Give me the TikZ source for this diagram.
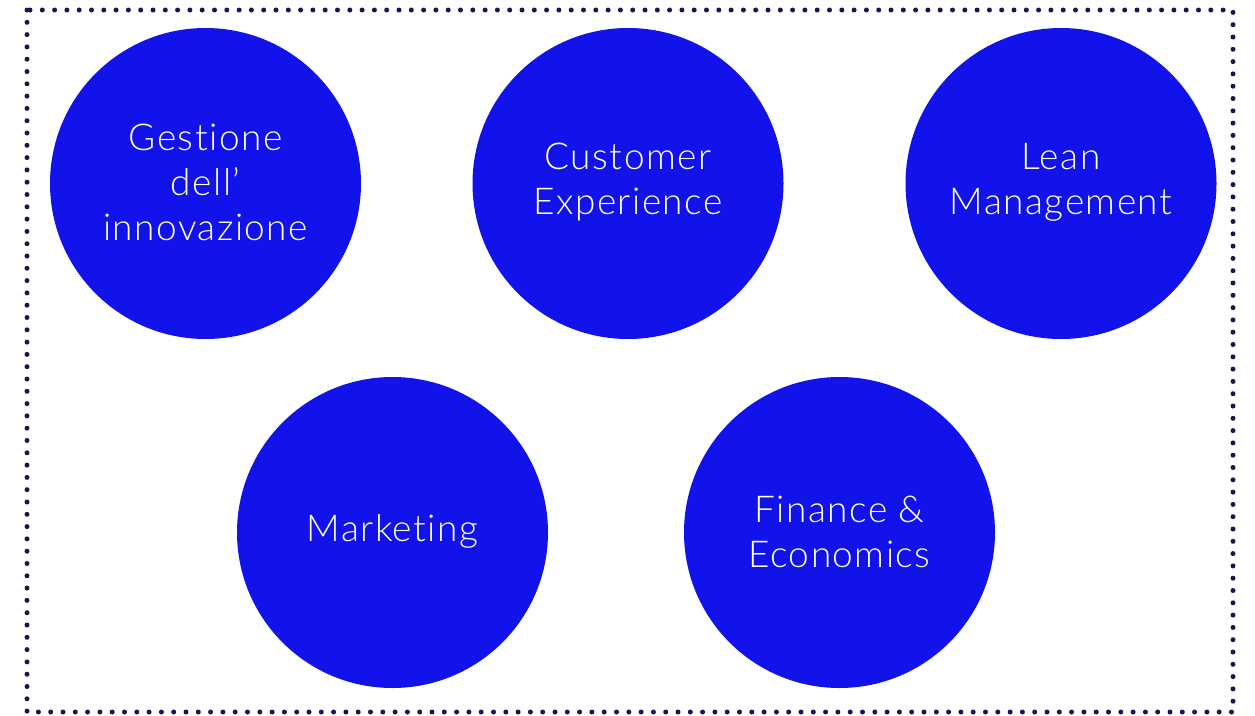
\documentclass[tikz,border=0pt]{standalone}
\usepackage{fontspec}
\setmainfont{Lato Light}[Ligatures=NoCommon,LetterSpace=4]
\definecolor{circblue}{HTML}{1212EB}
\definecolor{dotnavy}{HTML}{1A1450}
\begin{document}
\begin{tikzpicture}[x=1pt,y=-1pt,
  topic/.style={circle, fill=circblue, minimum size=311pt, inner sep=0pt},
  topictext/.style={text=white, align=center, inner sep=0pt, yshift=1pt,
    font=\fontsize{37}{45}\selectfont},
  frame/.style={draw=dotnavy, line width=5pt, line cap=round, dash pattern=on 0pt off 12.3pt}]
\useasboundingbox (0,0) rectangle (1255,715);
\draw[frame] (27,10) rectangle (1233,712);
\node[topic] (gest) at (205.5,183.5) {};
\node[topic] (cust) at (628,183.5) {};
\node[topic] (lean) at (1061,183.5) {};
\node[topic] (mkt) at (392.5,532.5) {};
\node[topic] (fin) at (839.5,532.5) {};
\node[topictext] (gestT) at (gest.center) {Gestione\\dell’\\innovazione};
\node[topictext] (custT) at (cust.center) {Customer\\Experience};
\node[topictext] (leanT) at (lean.center) {Lean\\Management};
\node[topictext] (mktT) at (mkt.center) {Marketing};
\node[topictext] (finT) at (fin.center) {Finance \&\\Economics};
\end{tikzpicture}
\end{document}
